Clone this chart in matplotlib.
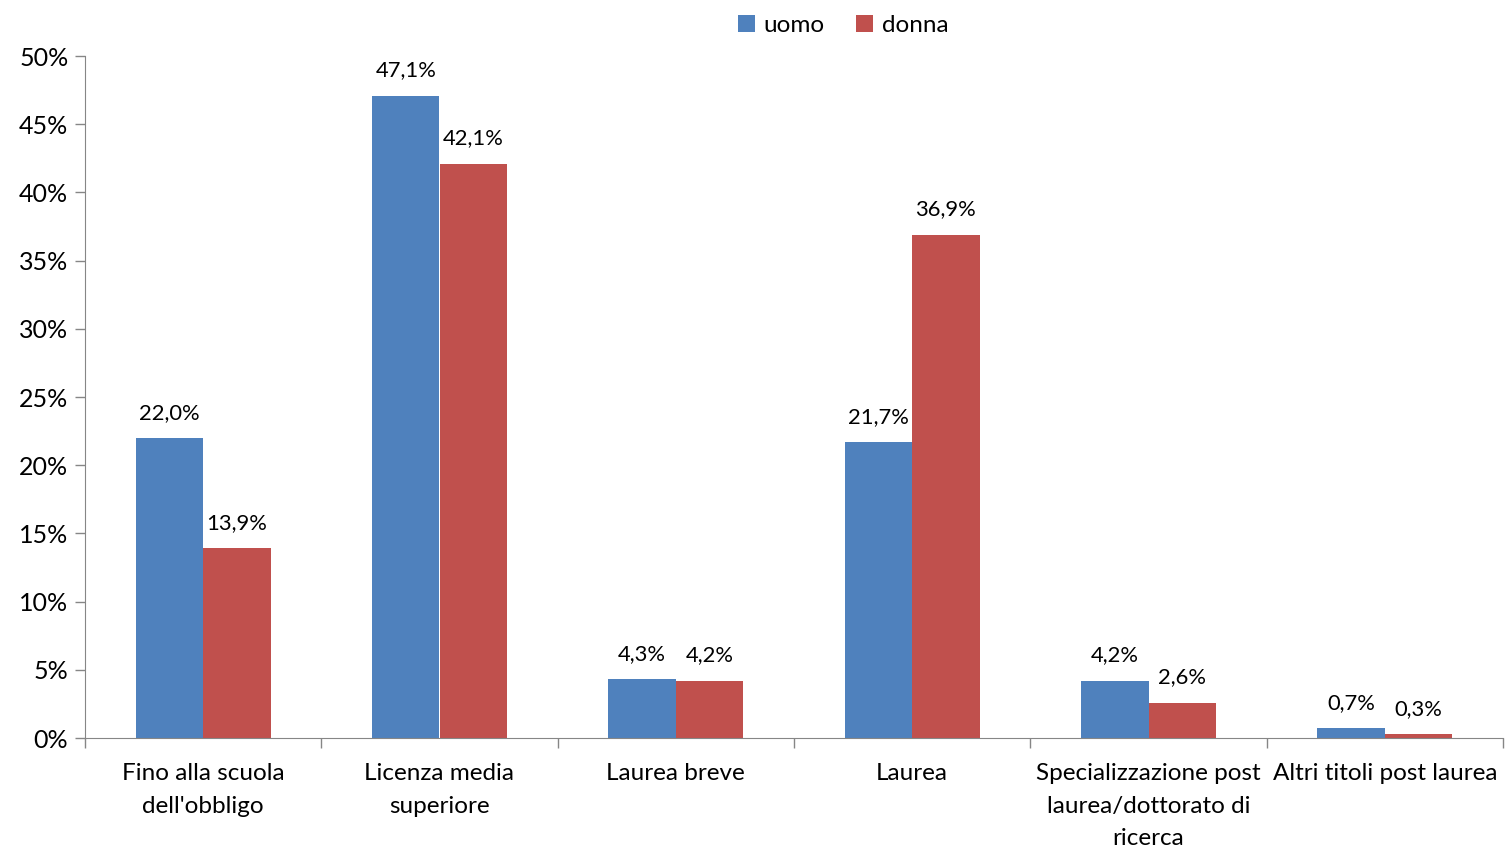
import matplotlib
matplotlib.use("Agg")
import matplotlib.pyplot as plt
from matplotlib.ticker import FuncFormatter, FixedLocator
import numpy as np

categories = ["Fino alla scuola\ndell'obbligo", "Licenza media\nsuperiore", "Laurea breve",
              "Laurea", "Specializzazione post\nlaurea/dottorato di\nricerca", "Altri titoli post laurea"]
uomo = [22.0, 47.1, 4.3, 21.7, 4.2, 0.7]
donna = [13.9, 42.1, 4.2, 36.9, 2.6, 0.3]
series_names = ["uomo", "donna"]
colors = ["#4F81BD", "#C0504D"]

plt.rcParams['font.family'] = ['Lato', 'DejaVu Sans']

fig = plt.figure(figsize=(15.05, 8.5), dpi=100)
ax = fig.add_axes([85/1505, 1-738/850, (1503-85)/1505, (738-56)/850])

n = len(categories)
centers = np.arange(n) + 0.5
w = 0.285
b1 = ax.bar(centers - w/2, uomo, w, color=colors[0], label=series_names[0])
b2 = ax.bar(centers + w/2, donna, w, color=colors[1], label=series_names[1])

for bars, vals in ((b1, uomo), (b2, donna)):
    for rect, v in zip(bars, vals):
        ax.annotate(f"{v:.1f}%".replace(".", ","), (rect.get_x() + rect.get_width()/2, v),
                    xytext=(0, 11), textcoords="offset points", ha="center", va="bottom",
                    fontsize=15.8)

ax.set_xlim(0, n)
ax.set_ylim(0, 50)
ax.yaxis.set_major_locator(FixedLocator(np.arange(0, 51, 5)))
ax.yaxis.set_major_formatter(FuncFormatter(lambda v, p: f"{v:.0f}%"))
ax.xaxis.set_major_locator(FixedLocator(np.arange(0, n+1)))
ax.xaxis.set_major_formatter(FuncFormatter(lambda v, p: ""))
ax.xaxis.set_minor_locator(FixedLocator(centers))
ax.set_xticklabels(categories, minor=True)
ax.tick_params(axis='x', which='minor', length=0, labelsize=17.5, pad=18)
ax.tick_params(axis='x', which='major', length=7, width=1, color="#868686", direction='out')
ax.tick_params(axis='y', length=7, width=1, color="#868686", labelsize=18, pad=5)
for lab in ax.get_xticklabels(minor=True):
    lab.set_linespacing(1.68)

ax.spines['top'].set_visible(False)
ax.spines['right'].set_visible(False)
for s in ('left', 'bottom'):
    ax.spines[s].set_color("#868686")

ax.legend(loc='upper center', bbox_to_anchor=(843/1505, 1 - 5/850), bbox_transform=fig.transFigure,
          ncol=2, frameon=False, fontsize=17.5, handlelength=0.7, handleheight=0.7,
          handletextpad=0.35, columnspacing=1.3, borderaxespad=0)

fig.savefig("out.png", dpi=100)
